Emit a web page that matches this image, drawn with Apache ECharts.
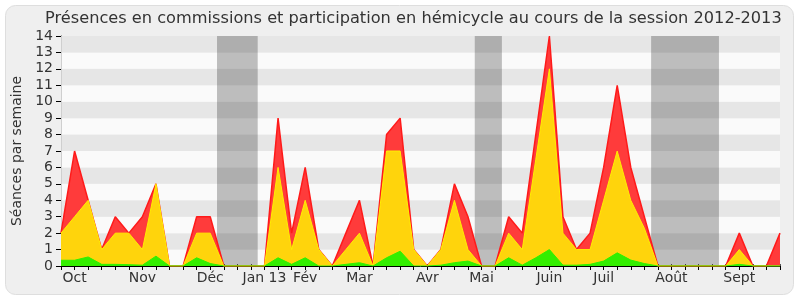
<!DOCTYPE html>
<html>
<head>
<meta charset="utf-8">
<script src="https://cdn.jsdelivr.net/npm/echarts@6/dist/echarts.min.js"></script>
<style>html,body{margin:0;padding:0;background:#fff}#c{width:800px;height:300px}</style>
</head>
<body>
<div id="c"></div>
<script>
// Week index 0..53 (weekly points, Oct 2012 -> Sept 2013)
var weeks = [];
for (var k = 0; k < 54; k++) weeks.push(k);

// Tick labels (month names) and the week index where each is placed
var monthLabels = ['Oct', 'Nov', 'Déc', 'Jan 13', 'Fév', 'Mar', 'Avr', 'Mai', 'Juin', 'Juil', 'Août', 'Sept'];
var monthWeeks  = [1, 6, 11, 15, 18, 22, 27, 31, 36, 40, 45, 50];

// Cumulative tops of each layer: green (bottom), yellow (middle), red (top)
var greenTop  = [0.35,0.35,0.55,0.1,0.1,0.08,0.05,0.6,0,0,
                 0.5,0.15,0,0,0,0,0.5,0.1,0.5,0,
                 0,0.1,0.2,0,0.5,0.9,0,0,0.05,0.2,
                 0.3,0,0,0.5,0.05,0.5,1,0.05,0.05,0.1,
                 0.3,0.8,0.36,0.15,0,0,0,0,0,0,
                 0.1,0,0,0];
var yellowTop = [2,3,4,1,2,2,1,5,0,0,
                 2,2,0,0,0,0,6,1,4,1,
                 0,1,2,0,7,7,1,0,1,4,
                 1,0,0,2,1,6.5,12,2,1,1,
                 4,7,4,2.3,0,0,0,0,0,0,
                 1,0,0,0];
var redTop    = [2,7,4,1,3,2,3,5,0,0,
                 3,3,0,0,0,0,9,2,6,1,
                 0,2,4,0,8,9,1,0,1,5,
                 3,0,0,3,2,8,14,3,1,2,
                 6,11,6,3,0,0,0,0,0,0,
                 2,0,0,2];

// Holiday bands (start/end in week units)
var bands = [[11.5, 14.5], [30.5, 32.5], [43.5, 48.5]];

function pairs(arr) { return arr.map(function (v, i) { return [weeks[i], v]; }); }

var labelMap = {};
monthWeeks.forEach(function (w, i) { labelMap[w] = monthLabels[i]; });

var FONT = 'DejaVu Sans';
var chart = echarts.init(document.getElementById('c'), null, { renderer: 'canvas' });
chart.setOption({
  animation: false,
  backgroundColor: '#ffffff',
  textStyle: { fontFamily: FONT },
  graphic: [{
    type: 'rect', z: -100, silent: true,
    shape: { x: 5.5, y: 5.5, width: 788, height: 289, r: 10 },
    style: { fill: '#efefef', stroke: '#dedede', lineWidth: 1 }
  }],
  title: {
    text: 'Présences en commissions et participation en hémicycle au cours de la session 2012-2013',
    left: 40, top: 6,
    textStyle: { fontFamily: FONT, fontSize: 16.2, fontWeight: 'normal', color: '#333' }
  },
  grid: { left: 61, right: 20, top: 36, bottom: 34 },
  xAxis: [{
    type: 'value', min: 0, max: 53, interval: 1,
    axisLine: { show: true, onZero: false, lineStyle: { color: '#000', width: 1 } },
    axisTick: { show: true, length: 4, lineStyle: { color: '#000' } },
    axisLabel: {
      show: true, margin: 5, color: '#333', fontSize: 14, fontFamily: FONT,
      formatter: function (v) { return labelMap[v] || ''; }
    },
    splitLine: { show: false }
  }, {
    type: 'value', position: 'top', min: 0, max: 53, interval: 1,
    axisLine: { show: false },
    axisTick: { show: true, length: 2, lineStyle: { color: '#555' } },
    axisLabel: { show: false },
    splitLine: { show: false }
  }],
  yAxis: [{
    type: 'value', min: 0, max: 14, interval: 1,
    name: 'Séances par semaine', nameLocation: 'middle', nameGap: 31,
    nameTextStyle: { fontFamily: FONT, fontSize: 14, color: '#333' },
    axisLine: { show: true, lineStyle: { color: '#000', width: 1 } },
    axisTick: { show: true, length: 5, lineStyle: { color: '#000' } },
    axisLabel: { color: '#333', fontSize: 14, fontFamily: FONT, margin: 8 },
    splitLine: { show: false },
    splitArea: { show: true, areaStyle: { color: ['#fafafa', '#e6e6e6'] } }
  }, {
    type: 'value', position: 'right', min: 0, max: 14, interval: 1,
    axisLine: { show: true, lineStyle: { color: '#cfcfcf', width: 1 } },
    axisTick: { show: false }, axisLabel: { show: false }, splitLine: { show: false }
  }],
  series: [{
    name: 'bands', type: 'line', symbol: 'none', data: [], z: 1,
    markArea: {
      silent: true,
      itemStyle: { color: 'rgba(0,0,0,0.245)' },
      data: bands.map(function (b) { return [{ xAxis: b[0] }, { xAxis: b[1] }]; })
    }
  }, {
    name: 'red', type: 'line', symbol: 'none',
    data: pairs(redTop),
    lineStyle: { color: '#ff1a1a', width: 1.5 },
    areaStyle: { color: '#ff3b3b', opacity: 1 },
    z: 3
  }, {
    name: 'yellow', type: 'line', symbol: 'none',
    data: pairs(yellowTop),
    lineStyle: { color: '#ffee00', width: 1 },
    areaStyle: { color: '#ffd40c', opacity: 1 },
    z: 4
  }, {
    name: 'green', type: 'line', symbol: 'none',
    data: pairs(greenTop),
    lineStyle: { color: '#2ef000', width: 1 },
    areaStyle: { color: '#33ee00', opacity: 1 },
    z: 5
  }]
});
</script>
</body>
</html>
